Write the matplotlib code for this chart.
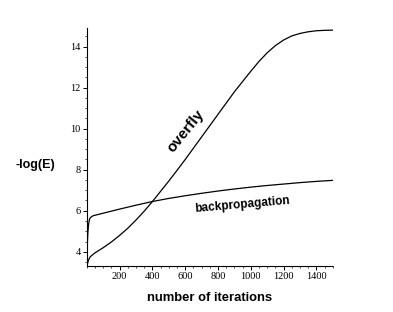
import matplotlib
matplotlib.use('Agg')
import matplotlib.pyplot as plt
from matplotlib.ticker import MultipleLocator

# values
overfly_x = [0, 5, 10, 20, 30, 50, 100, 150, 200, 250, 300, 350, 400, 450, 500, 550, 600,
             650, 700, 750, 800, 850, 900, 950, 1000, 1050, 1100, 1150, 1200, 1250, 1300,
             1350, 1400, 1450, 1500]
overfly_y = [3.3, 3.45, 3.6, 3.75, 3.82, 3.95, 4.2, 4.48, 4.8, 5.15, 5.55, 5.98, 6.45, 6.95, 7.45,
             7.97, 8.5, 9.05, 9.6, 10.15, 10.7, 11.25, 11.8, 12.3, 12.8, 13.28, 13.7, 14.05,
             14.32, 14.52, 14.64, 14.72, 14.77, 14.79, 14.8]

bp_x = [0, 3, 6, 10, 15, 20, 30, 40, 60, 100, 200, 300, 400, 500, 600, 700, 800, 900,
        1000, 1100, 1200, 1300, 1400, 1500]
bp_y = [3.95, 4.4, 4.9, 5.3, 5.55, 5.65, 5.72, 5.76, 5.8, 5.88, 6.08, 6.27, 6.45, 6.6, 6.73,
        6.85, 6.96, 7.06, 7.15, 7.23, 7.3, 7.37, 7.43, 7.48]

xticks = [200, 400, 600, 800, 1000, 1200, 1400]
yticks = [4, 6, 8, 10, 12, 14]

fig = plt.figure(figsize=(3.93, 3.12), dpi=100)
ax = fig.add_axes([0.221, 0.147, 0.626, 0.763])

ax.plot(overfly_x, overfly_y, color='black', linewidth=0.9)
ax.plot(bp_x, bp_y, color='black', linewidth=0.9)

ax.set_xlim(0, 1500)
ax.set_ylim(3.3, 14.9)
ax.set_xticks(xticks)
ax.set_yticks(yticks)
ax.xaxis.set_minor_locator(MultipleLocator(50))
ax.yaxis.set_minor_locator(MultipleLocator(0.5))

for s in ['top', 'right']:
    ax.spines[s].set_visible(False)
for s in ['left', 'bottom']:
    ax.spines[s].set_linewidth(0.8)
    ax.spines[s].set_linestyle((0, (2, 1)))

ax.tick_params(which='major', direction='out', length=3, width=0.7, labelsize=7.5, pad=1.5)
ax.tick_params(which='minor', direction='out', length=1.5, width=0.5)
for lab in ax.get_xticklabels() + ax.get_yticklabels():
    lab.set_fontfamily('Liberation Serif')

ax.set_xlabel('number of iterations', fontsize=9.4, fontweight='bold',
              fontfamily='Liberation Sans', labelpad=7.5)
fig.text(0.089, 0.471, '-log(E)', fontsize=9, fontweight='bold',
         fontfamily='Liberation Sans', ha='center', va='center')

ax.text(600, 9.87, 'overfly', rotation=51, fontsize=11, fontweight='bold',
        fontfamily='Liberation Sans', ha='center', va='center')
ax.text(949, 6.28, 'backpropagation', rotation=5, fontsize=8.5, fontweight='bold',
        fontfamily='Liberation Sans', ha='center', va='center')

plt.savefig('out.png', dpi=100)
